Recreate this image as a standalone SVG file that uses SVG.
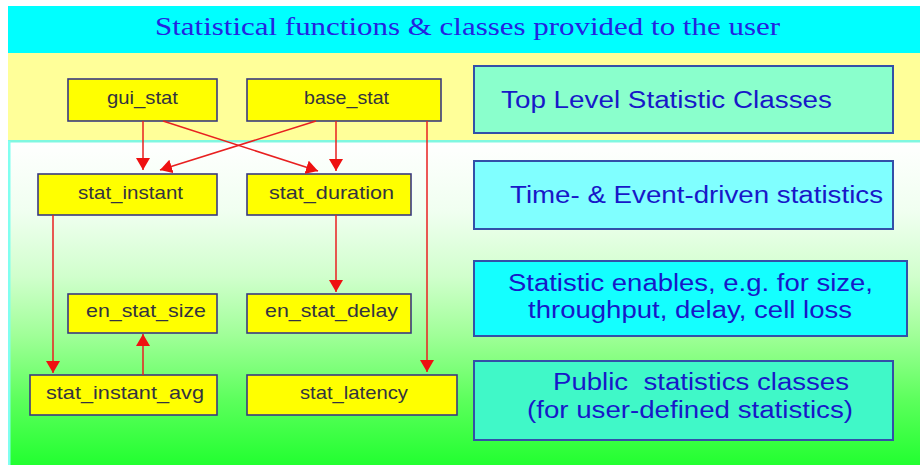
<svg xmlns="http://www.w3.org/2000/svg" width="920" height="465" viewBox="0 0 920 465">
  <defs>
    <linearGradient id="bgGreen" x1="0" y1="0" x2="0" y2="1">
      <stop offset="0" stop-color="#ffffff"/>
      <stop offset="0.22" stop-color="#f0fff0"/>
      <stop offset="0.42" stop-color="#d0ffcc"/>
      <stop offset="0.6" stop-color="#a0ff98"/>
      <stop offset="0.8" stop-color="#5cff5c"/>
      <stop offset="1" stop-color="#22ff30"/>
    </linearGradient>
    <marker id="arrow" viewBox="0 0 12 14" refX="12" refY="7" markerWidth="12" markerHeight="14" markerUnits="userSpaceOnUse" orient="auto">
      <path d="M0,0 L12,7 L0,14 Z" fill="#ee1111"/>
    </marker>
    <style>
      .node rect { fill: #ffff00; stroke: #3a3a80; stroke-width: 1.6; }
      .node text { font-family: "Liberation Sans", Arial, sans-serif; font-size: 19px; fill: #333340; }
      .node text.thin { font-family: "Liberation Sans Narrow", "Liberation Sans", Arial, sans-serif; }
      .panel rect { stroke: #3350a8; stroke-width: 2; }
      .panel text { font-family: "Liberation Sans", Arial, sans-serif; font-size: 23px; fill: #1818c8; }
      .edge { stroke: #e82020; stroke-width: 1.5; fill: none; marker-end: url(#arrow); }
    </style>
  </defs>

  <!-- page background -->
  <rect x="0" y="0" width="920" height="465" fill="#ffffff"/>
  <rect x="8" y="6" width="912" height="47" fill="#00ffff"/>
  <rect x="8" y="53" width="912" height="88" fill="#ffff99"/>
  <rect x="8" y="141" width="912" height="324" fill="url(#bgGreen)"/>
  <rect x="8" y="140" width="912" height="2.5" fill="#80f8e0"/>
  <rect x="8" y="141" width="2.5" height="324" fill="#80fff0"/>

  <text x="155" y="35" textLength="625" lengthAdjust="spacingAndGlyphs" font-family="'Liberation Serif', 'Times New Roman', serif" font-size="26" fill="#2424e0">Statistical functions &amp; classes provided to the user</text>

  <!-- class nodes -->
  <g id="gui_stat" class="node">
    <rect x="68" y="79" width="149" height="42"/>
    <text class="thin" x="107" y="104" textLength="71" lengthAdjust="spacingAndGlyphs">gui_stat</text>
  </g>
  <g id="base_stat" class="node">
    <rect x="247" y="79" width="194" height="42"/>
    <text class="thin" x="304" y="104" textLength="85" lengthAdjust="spacingAndGlyphs">base_stat</text>
  </g>
  <g id="stat_instant" class="node">
    <rect x="38" y="174" width="179" height="41"/>
    <text class="thin" x="78" y="199" textLength="105" lengthAdjust="spacingAndGlyphs">stat_instant</text>
  </g>
  <g id="stat_duration" class="node">
    <rect x="247" y="174" width="164" height="41"/>
    <text x="269" y="199" textLength="125" lengthAdjust="spacingAndGlyphs">stat_duration</text>
  </g>
  <g id="en_stat_size" class="node">
    <rect x="68" y="294" width="149" height="39"/>
    <text x="86" y="317" textLength="120" lengthAdjust="spacingAndGlyphs">en_stat_size</text>
  </g>
  <g id="en_stat_delay" class="node">
    <rect x="247" y="294" width="164" height="39"/>
    <text x="265" y="317" textLength="133" lengthAdjust="spacingAndGlyphs">en_stat_delay</text>
  </g>
  <g id="stat_instant_avg" class="node">
    <rect x="30" y="375" width="187" height="40"/>
    <text x="46" y="399" textLength="158" lengthAdjust="spacingAndGlyphs">stat_instant_avg</text>
  </g>
  <g id="stat_latency" class="node">
    <rect x="247" y="375" width="210" height="40"/>
    <text class="thin" x="300" y="399" textLength="108" lengthAdjust="spacingAndGlyphs">stat_latency</text>
  </g>

  <!-- description panels -->
  <g id="panel_top_level" class="panel">
    <rect x="474" y="66" width="419" height="67" fill="#8affcc"/>
    <text x="501" y="108" textLength="331" lengthAdjust="spacingAndGlyphs">Top Level Statistic Classes</text>
  </g>
  <g id="panel_time_event" class="panel">
    <rect x="474" y="161" width="419" height="68" fill="#80ffff"/>
    <text x="510" y="203" textLength="373" lengthAdjust="spacingAndGlyphs">Time- &amp; Event-driven statistics</text>
  </g>
  <g id="panel_enables" class="panel">
    <rect x="474" y="261" width="433" height="75" fill="#14ffff"/>
    <text x="508" y="291" textLength="365" lengthAdjust="spacingAndGlyphs">Statistic enables, e.g. for size,</text>
    <text x="528" y="318" textLength="324" lengthAdjust="spacingAndGlyphs">throughput, delay, cell loss</text>
  </g>
  <g id="panel_public" class="panel">
    <rect x="474" y="361" width="419" height="79" fill="#40f8c8"/>
    <text x="553" y="390" textLength="296" lengthAdjust="spacingAndGlyphs" xml:space="preserve">Public  statistics classes</text>
    <text x="527" y="418" textLength="326" lengthAdjust="spacingAndGlyphs">(for user-defined statistics)</text>
  </g>

  <!-- inheritance connectors -->
  <g id="connectors">
    <line class="edge" x1="143" y1="121" x2="143" y2="170"/>
    <line class="edge" x1="316" y1="121" x2="160" y2="170"/>
    <line class="edge" x1="163" y1="121" x2="318" y2="171"/>
    <line class="edge" x1="336" y1="121" x2="336" y2="171"/>
    <line class="edge" x1="427" y1="121" x2="427" y2="372"/>
    <line class="edge" x1="336" y1="215" x2="336" y2="292"/>
    <line class="edge" x1="53" y1="215" x2="53" y2="373"/>
    <line class="edge" x1="143" y1="375" x2="143" y2="334"/>
  </g>
</svg>
